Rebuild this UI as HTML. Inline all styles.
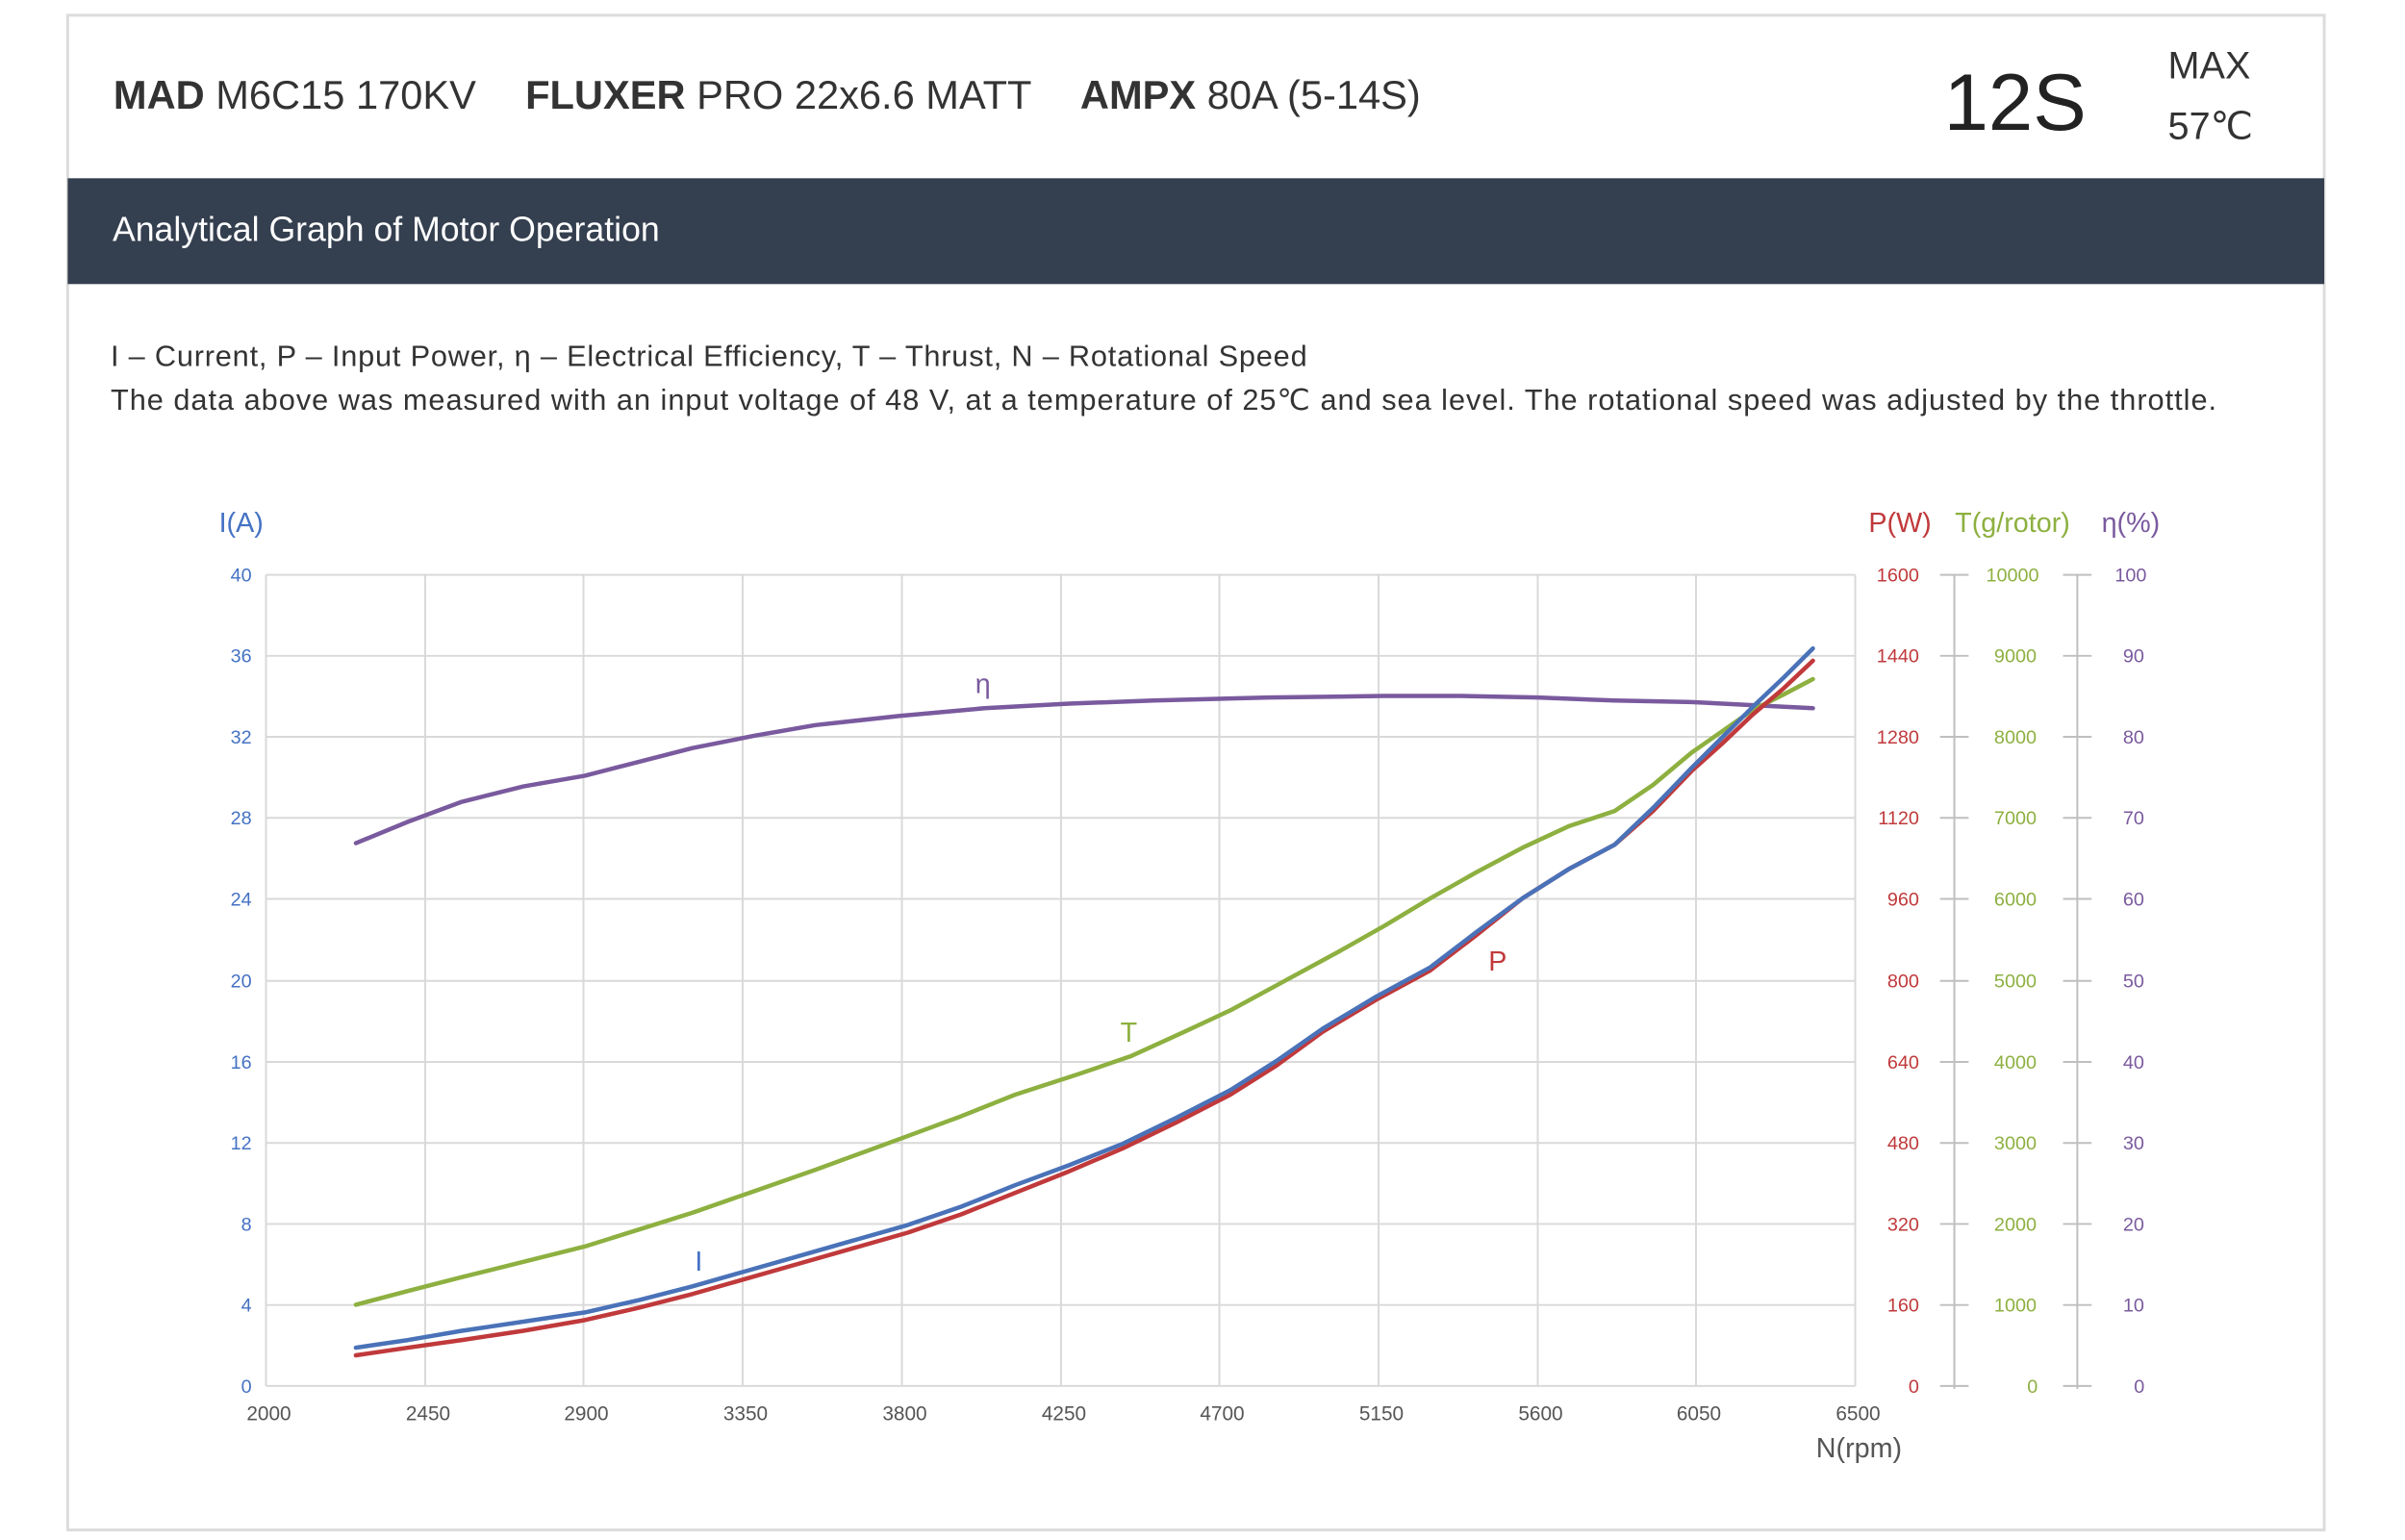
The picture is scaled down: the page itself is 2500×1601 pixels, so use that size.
<!DOCTYPE html>
<html><head><meta charset="utf-8"><style>
html,body{margin:0;padding:0;background:#fff;width:2500px;height:1601px;overflow:hidden}
svg{display:block}
text{font-family:"Liberation Sans",sans-serif}
</style></head><body>
<svg width="2500" height="1601" viewBox="0 0 2500 1601" xmlns="http://www.w3.org/2000/svg">
<g transform="scale(0.991)">
<rect x="71" y="16" width="2367" height="1589" fill="#fff" stroke="#dcdcdc" stroke-width="3"/>
<text x="119" y="114" font-size="42" fill="#333"><tspan font-weight="bold">MAD</tspan> M6C15 170KV <tspan dx="40" font-weight="bold">FLUXER</tspan> PRO 22x6.6 MATT <tspan dx="40" font-weight="bold">AMPX</tspan> 80A  (5-14S)</text>
<text x="2039" y="136" font-size="84" fill="#222">12S</text>
<text x="2274" y="82" font-size="40" fill="#333">MAX</text>
<text x="2274" y="146" font-size="40" fill="#333">57℃</text>
<rect x="71" y="187" width="2367" height="111" fill="#343f4f"/>
<text x="118" y="253" font-size="36" fill="#fff">Analytical Graph of Motor Operation</text>
<text x="116" y="384" font-size="31" fill="#333" textLength="1255">I – Current, P – Input Power, η – Electrical Efficiency, T – Thrust,   N – Rotational Speed</text>
<text x="116" y="430" font-size="31" fill="#333" textLength="2209">The data above was measured with an input voltage of 48 V, at a temperature of 25℃ and sea level. The rotational speed was adjusted by the throttle.</text>

<g transform="translate(0,5)">
<g stroke="#d9d9d9" stroke-width="2">
<line x1="279" y1="598" x2="1946" y2="598"/><line x1="279" y1="683" x2="1946" y2="683"/><line x1="279" y1="768" x2="1946" y2="768"/><line x1="279" y1="853" x2="1946" y2="853"/><line x1="279" y1="938" x2="1946" y2="938"/><line x1="279" y1="1024" x2="1946" y2="1024"/><line x1="279" y1="1109" x2="1946" y2="1109"/><line x1="279" y1="1194" x2="1946" y2="1194"/><line x1="279" y1="1279" x2="1946" y2="1279"/><line x1="279" y1="1364" x2="1946" y2="1364"/><line x1="279" y1="1449" x2="1946" y2="1449"/>
<line x1="279" y1="598" x2="279" y2="1449"/><line x1="446" y1="598" x2="446" y2="1449"/><line x1="612" y1="598" x2="612" y2="1449"/><line x1="779" y1="598" x2="779" y2="1449"/><line x1="946" y1="598" x2="946" y2="1449"/><line x1="1113" y1="598" x2="1113" y2="1449"/><line x1="1279" y1="598" x2="1279" y2="1449"/><line x1="1446" y1="598" x2="1446" y2="1449"/><line x1="1613" y1="598" x2="1613" y2="1449"/><line x1="1779" y1="598" x2="1779" y2="1449"/><line x1="1946" y1="598" x2="1946" y2="1449"/>
</g>
<g stroke="#bfbfbf" stroke-width="2">
<line x1="2050" y1="598" x2="2050" y2="1452"/><line x1="2179" y1="598" x2="2179" y2="1452"/>
<path d="M2035 598h30M2035 683h30M2035 768h30M2035 853h30M2035 938h30M2035 1024h30M2035 1109h30M2035 1194h30M2035 1279h30M2035 1364h30M2035 1449h30"/>
<path d="M2164 598h30M2164 683h30M2164 768h30M2164 853h30M2164 938h30M2164 1024h30M2164 1109h30M2164 1194h30M2164 1279h30M2164 1364h30M2164 1449h30"/>
</g>
<g font-size="20" fill="#4472c4" text-anchor="end">
<text x="264" y="605">40</text><text x="264" y="690">36</text><text x="264" y="775">32</text><text x="264" y="860">28</text><text x="264" y="945">24</text><text x="264" y="1031">20</text><text x="264" y="1116">16</text><text x="264" y="1201">12</text><text x="264" y="1286">8</text><text x="264" y="1371">4</text><text x="264" y="1456">0</text>
</g>
<g font-size="20" fill="#c0393b" text-anchor="end">
<text x="2013" y="605">1600</text><text x="2013" y="690">1440</text><text x="2013" y="775">1280</text><text x="2013" y="860">1120</text><text x="2013" y="945">960</text><text x="2013" y="1031">800</text><text x="2013" y="1116">640</text><text x="2013" y="1201">480</text><text x="2013" y="1286">320</text><text x="2013" y="1371">160</text><text x="2013" y="1456">0</text>
</g>
<g font-size="20" fill="#8db040" text-anchor="middle">
<text x="2111" y="605">10000</text><text x="2114" y="690">9000</text><text x="2114" y="775">8000</text><text x="2114" y="860">7000</text><text x="2114" y="945">6000</text><text x="2114" y="1031">5000</text><text x="2114" y="1116">4000</text><text x="2114" y="1201">3000</text><text x="2114" y="1286">2000</text><text x="2114" y="1371">1000</text><text x="2132" y="1456">0</text>
</g>
<g font-size="20" fill="#7a5a9e" text-anchor="middle">
<text x="2235" y="605">100</text><text x="2238" y="690">90</text><text x="2238" y="775">80</text><text x="2238" y="860">70</text><text x="2238" y="945">60</text><text x="2238" y="1031">50</text><text x="2238" y="1116">40</text><text x="2238" y="1201">30</text><text x="2238" y="1286">20</text><text x="2238" y="1371">10</text><text x="2244" y="1456">0</text>
</g>
<g font-size="21" fill="#555" text-anchor="middle">
<text x="282" y="1485">2000</text><text x="449" y="1485">2450</text><text x="615" y="1485">2900</text><text x="782" y="1485">3350</text><text x="949" y="1485">3800</text><text x="1116" y="1485">4250</text><text x="1282" y="1485">4700</text><text x="1449" y="1485">5150</text><text x="1616" y="1485">5600</text><text x="1782" y="1485">6050</text><text x="1949" y="1485">6500</text>
</g>
<text x="1950" y="1524" font-size="29" fill="#555" text-anchor="middle">N(rpm)</text>
<text x="253" y="553" font-size="29" fill="#4472c4" text-anchor="middle">I(A)</text>
<text x="1993" y="553" font-size="29" fill="#c0393b" text-anchor="middle">P(W)</text>
<text x="2111" y="553" font-size="29" fill="#8db040" text-anchor="middle">T(g/rotor)</text>
<text x="2235" y="553" font-size="29" fill="#7a5a9e" text-anchor="middle">η(%)</text>

<g transform="translate(0.87,-3.65) scale(1.6122,1.6087)" fill="none" stroke-linejoin="round" stroke-linecap="round">
<polyline vector-effect="non-scaling-stroke" stroke="#7a5a9e" stroke-width="4.5" points="231,549 265,535 300,522 340,512 380,505 415,496 450,487 490,479 530,472 585,466 640,461 695,458 750,456 825,454 900,453 950,453 1000,454 1050,456 1100,457 1140,459 1179,461"/>
<polyline vector-effect="non-scaling-stroke" stroke="#8db040" stroke-width="4.5" points="231,850 265,841 300,832 340,822 380,812 415,801 450,790 490,776 530,762 560,751 590,740 625,727 660,713 700,700 735,688 770,672 800,658 835,639 870,620 900,603 930,585 960,568 990,552 1020,538 1050,528 1075,511 1100,490 1120,476 1140,462 1160,452 1179,442"/>
<polyline vector-effect="non-scaling-stroke" stroke="#c0393b" stroke-width="4.5" points="231,883 265,878 300,873 340,867 380,860 415,852 450,843 485,833 520,823 555,813 590,803 625,791 660,777 695,763 730,748 765,731 800,713 830,694 860,672 895,651 930,632 960,609 990,585 1020,566 1050,550 1075,528 1100,502 1120,484 1140,465 1160,448 1179,430"/>
<polyline vector-effect="non-scaling-stroke" stroke="#4a72b8" stroke-width="4.5" points="231,878 265,873 300,867 340,861 380,855 415,847 450,838 485,828 520,818 555,808 590,798 625,786 660,772 695,759 730,745 765,728 800,710 830,691 860,670 895,649 930,630 960,607 990,585 1020,566 1050,550 1075,526 1100,500 1120,480 1140,460 1160,441 1179,422"/>
</g>
<g font-size="29" text-anchor="middle">
<text x="1031" y="722" fill="#7a5a9e">η</text>
<text x="1184" y="1088" fill="#8db040">T</text>
<text x="733" y="1328" fill="#4472c4">I</text>
<text x="1571" y="1013" fill="#c0393b">P</text>
</g>
</g>
</g>
</svg>
</body></html>
